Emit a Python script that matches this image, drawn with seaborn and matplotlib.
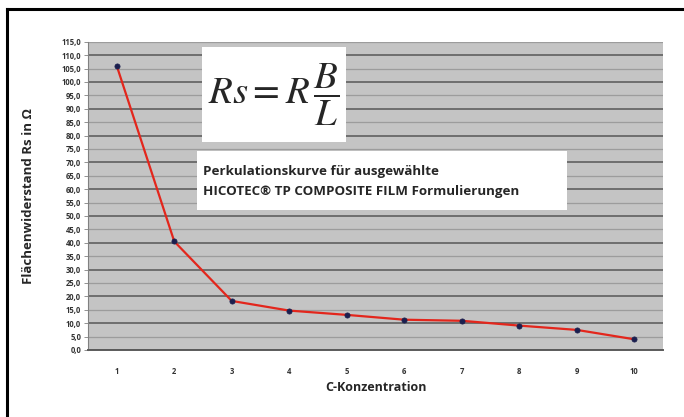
import numpy as np
import pandas as pd
import matplotlib
matplotlib.use("Agg")
import matplotlib.pyplot as plt
import matplotlib.patches as patches
from matplotlib.lines import Line2D
from matplotlib.ticker import FuncFormatter, MultipleLocator
import seaborn as sns

# data
konzentration = [1, 2, 3, 4, 5, 6, 7, 8, 9, 10]
rs_ohm = [106.0, 40.5, 18.3, 14.7, 13.1, 11.3, 10.9, 9.1, 7.5, 4.0]
x_labels = ["1", "2", "3", "4", "5", "6", "7", "8", "9", "10"]

df = pd.DataFrame({"C": konzentration, "Rs": rs_ohm})

sns.set_style("white")
plt.rcParams["font.family"] = ["Open Sans", "DejaVu Sans"]
plt.rcParams["mathtext.fontset"] = "stix"

fig = plt.figure(figsize=(6.84, 4.17), dpi=100)
ax = fig.add_axes([88/684, 67/417, 575/684, 308.3/417])
ax.set_facecolor("#c4c4c4")

sns.lineplot(data=df, x="C", y="Rs", color="#e3261c", linewidth=1.6, ax=ax, zorder=3)
sns.scatterplot(data=df, x="C", y="Rs", color="#1b1f4f", s=14, edgecolor="#1b1f4f",
                linewidth=0.5, ax=ax, zorder=4)

ax.set_xlim(0.5, 10.5)
ax.set_ylim(0, 115)
ax.yaxis.set_major_locator(MultipleLocator(5))
ax.yaxis.set_major_formatter(FuncFormatter(lambda v, p: f"{v:.1f}".replace(".", ",")))
ax.set_xticks(konzentration)
ax.set_xticklabels(x_labels)

ax.grid(axis="y", zorder=1)
for i, gl in enumerate(ax.get_ygridlines()):
    if i % 2 == 1:
        gl.set_color("#6e6e6e")
        gl.set_linewidth(1.4)
    else:
        gl.set_color("#9c9c9c")
        gl.set_linewidth(0.9)
ax.set_axisbelow(True)

for s in ["top", "right"]:
    ax.spines[s].set_visible(False)
ax.spines["left"].set_color("#808080")
ax.spines["left"].set_linewidth(0.8)
ax.spines["bottom"].set_color("#5a5a5a")
ax.spines["bottom"].set_linewidth(1.4)

ax.tick_params(axis="y", length=3, width=0.6, color="#808080", labelsize=5.5,
               labelcolor="#333333", pad=2, left=True)
ax.tick_params(axis="x", length=0, labelsize=5.5, labelcolor="#333333", pad=12)
for lab in ax.get_xticklabels() + ax.get_yticklabels():
    lab.set_fontweight("bold")

ax.set_xlabel("C-Konzentration", fontsize=9, fontweight="bold", labelpad=4)
ax.set_ylabel("Flächenwiderstand Rs in Ω", fontsize=9.5, fontweight="bold")
ax.yaxis.set_label_coords(-0.092, 0.5)

# formula box
fig.add_artist(patches.Rectangle((202/684, 1 - 142/417), 144/684, 95/417,
                                 facecolor="white", edgecolor="none",
                                 transform=fig.transFigure, zorder=5))
fig.text(274/684, 1 - 95/417, r"$Rs = R\,\dfrac{B}{L}$", fontsize=28,
         ha="center", va="center", zorder=6)

# caption box
fig.add_artist(patches.Rectangle((197/684, 1 - 210/417), 370/684, 59/417,
                                 facecolor="white", edgecolor="none",
                                 transform=fig.transFigure, zorder=5))
fig.text(203/684, 1 - 172/417, "Perkulationskurve für ausgewählte",
         fontsize=9.6, fontweight="bold", ha="left", va="center", zorder=6)
fig.text(203/684, 1 - 192/417, "HICOTEC® TP COMPOSITE FILM Formulierungen",
         fontsize=9.6, fontweight="bold", ha="left", va="center", zorder=6)

# outer frame (left and top edges visible)
top = 1 - 9/417
left = 7/684
fig.add_artist(Line2D([left, left], [0, top], color="black", linewidth=2.2,
                      transform=fig.transFigure, solid_capstyle="projecting"))
fig.add_artist(Line2D([left, 1], [top, top], color="black", linewidth=2.2,
                      transform=fig.transFigure, solid_capstyle="projecting"))

fig.savefig("out.png", dpi=100)
